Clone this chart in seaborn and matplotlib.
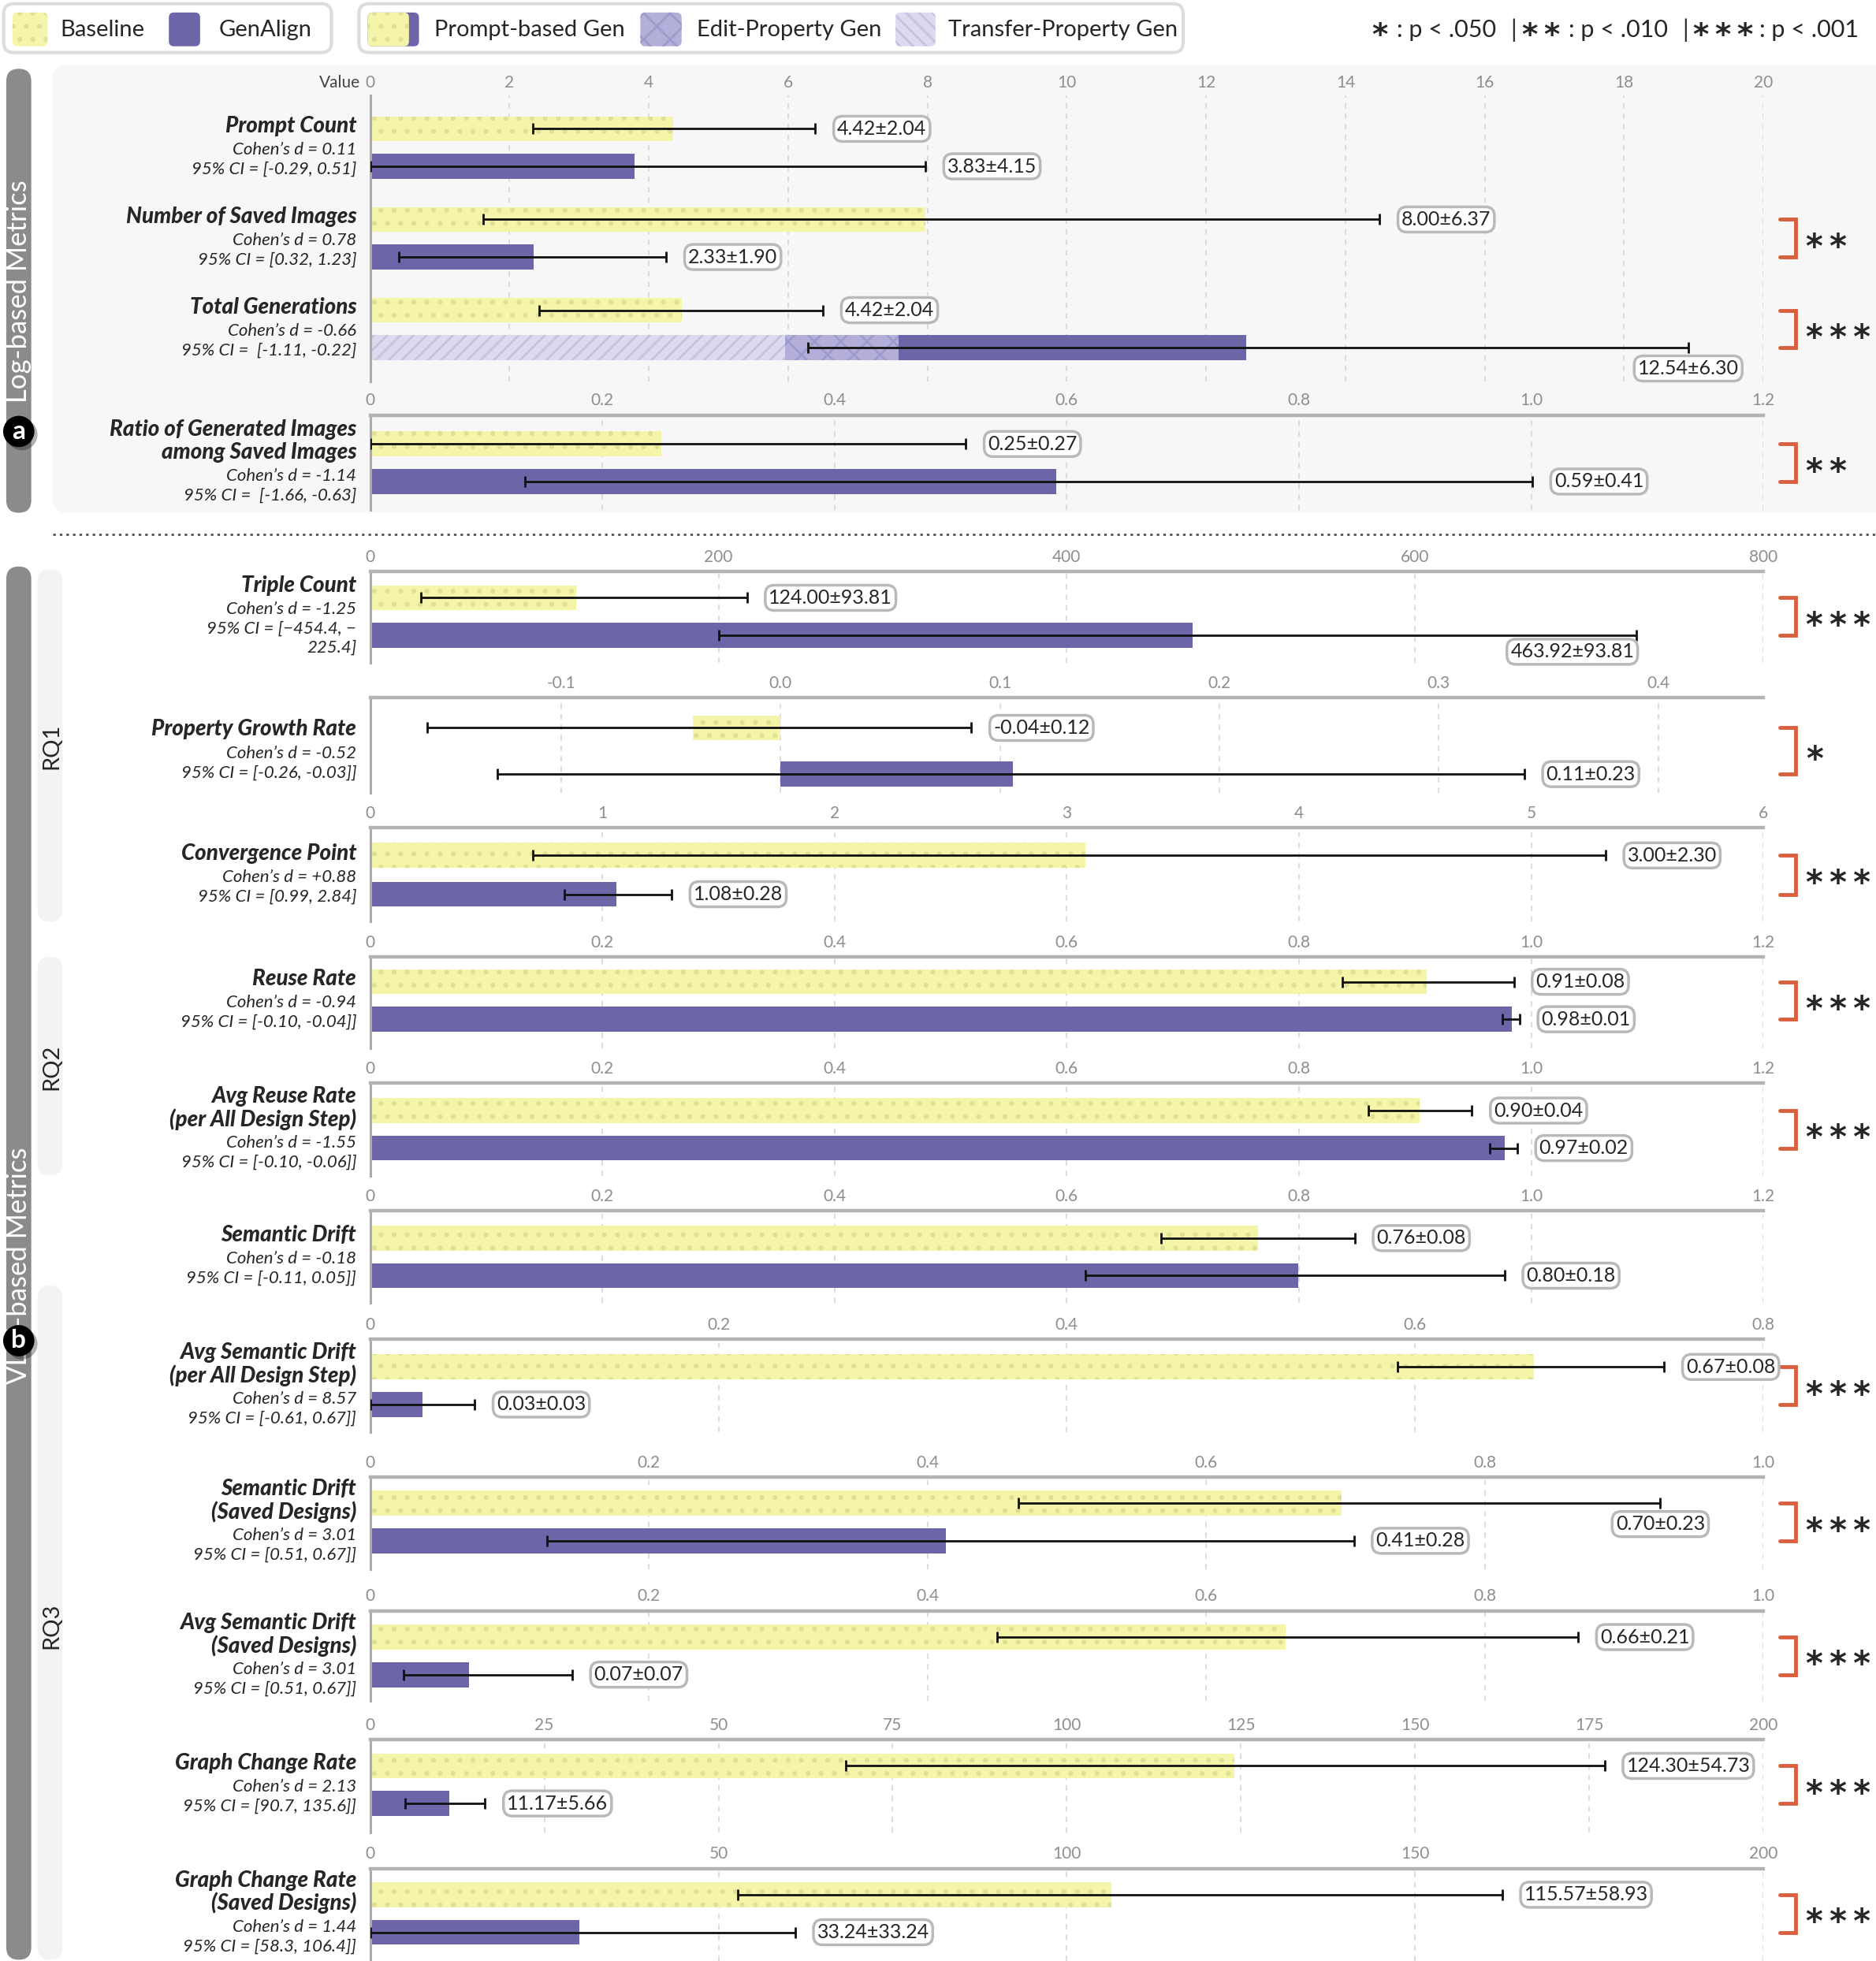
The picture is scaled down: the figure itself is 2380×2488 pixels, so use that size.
import numpy as np
import pandas as pd
import matplotlib.pyplot as plt
import seaborn as sns
import matplotlib.transforms as mtransforms
from matplotlib.colors import to_rgb
from matplotlib.patches import FancyBboxPatch, Circle

# ---- values ----
metrics = ['Prompt Count', 'Number of Saved Images', 'Total Generations',
           'Ratio of Generated Images\namong Saved Images', 'Triple Count',
           'Property Growth Rate', 'Convergence Point', 'Reuse Rate',
           'Avg Reuse Rate\n(per All Design Step)', 'Semantic Drift',
           'Avg Semantic Drift\n(per All Design Step)', 'Semantic Drift\n(Saved Designs)',
           'Avg Semantic Drift\n(Saved Designs)', 'Graph Change Rate',
           'Graph Change Rate\n(Saved Designs)']
cohens_d = ['0.11', '0.78', '-0.66', '-1.14', '-1.25', '-0.52', '+0.88', '-0.94',
            '-1.55', '-0.18', '8.57', '3.01', '3.01', '2.13', '1.44']
ci_text = ['[-0.29, 0.51]', '[0.32, 1.23]', ' [-1.11, -0.22]', ' [-1.66, -0.63]',
           '[\u2212454.4, \u2212\n225.4]', '[-0.26, -0.03]]', '[0.99, 2.84]',
           '[-0.10, -0.04]]', '[-0.10, -0.06]]', '[-0.11, 0.05]]', '[-0.61, 0.67]]',
           '[0.51, 0.67]]', '[0.51, 0.67]]', '[90.7, 135.6]]', '[58.3, 106.4]]']

base_mean = [4.35, 7.97, 4.47, 0.251, 118.3, -0.04, 3.08, 0.910, 0.904, 0.765,
             0.668, 0.697, 0.657, 124.1, 106.4]
base_lo = [2.33, 1.62, 2.42, 0.0, 29.3, -0.161, 0.70, 0.837, 0.860, 0.681,
           0.590, 0.465, 0.450, 68.3, 52.8]
base_hi = [6.39, 14.49, 6.50, 0.513, 216.3, 0.087, 5.32, 0.985, 0.949, 0.848,
           0.743, 0.926, 0.867, 177.2, 162.5]
gen_mean = [3.79, 2.35, 12.58, 0.591, 472.0, 0.106, 1.061, 0.983, 0.977, 0.799,
            0.030, 0.413, 0.071, 11.3, 30.0]
gen_lo = [0.0, 0.41, 6.28, 0.133, 200.0, -0.129, 0.835, 0.975, 0.964, 0.616,
          0.0, 0.127, 0.024, 5.0, 0.0]
gen_hi = [7.97, 4.25, 18.92, 1.001, 727.0, 0.339, 1.298, 0.990, 0.988, 0.977,
          0.060, 0.706, 0.145, 16.5, 61.0]
base_label = ['4.42±2.04', '8.00±6.37', '4.42±2.04', '0.25±0.27', '124.00±93.81',
              '-0.04±0.12', '3.00±2.30', '0.91±0.08', '0.90±0.04', '0.76±0.08',
              '0.67±0.08', '0.70±0.23', '0.66±0.21', '124.30±54.73', '115.57±58.93']
gen_label = ['3.83±4.15', '2.33±1.90', '12.54±6.30', '0.59±0.41', '463.92±93.81',
             '0.11±0.23', '1.08±0.28', '0.98±0.01', '0.97±0.02', '0.80±0.18',
             '0.03±0.03', '0.41±0.28', '0.07±0.07', '11.17±5.66', '33.24±33.24']
significance = ['', '**', '***', '**', '***', '*', '***', '***', '***', '',
                '***', '***', '***', '***', '***']

# GenAlign "Total Generations" split: transfer-property, edit-property, prompt-based
total_gen_split = [5.96, 1.63, 4.99]

# panels: which metrics, x range, ticks
panel_rows = [[0, 1, 2], [3], [4], [5], [6], [7], [8], [9], [10], [11], [12], [13], [14]]
panel_xlim = [(0, 20), (0, 1.2), (0, 800), (-0.187, 0.448), (0, 6), (0, 1.2), (0, 1.2),
              (0, 1.2), (0, 0.8), (0, 1.0), (0, 1.0), (0, 200), (0, 200)]
ticks_12 = ([0, 0.2, 0.4, 0.6, 0.8, 1.0, 1.2], ['0', '0.2', '0.4', '0.6', '0.8', '1.0', '1.2'])
ticks_10 = ([0, 0.2, 0.4, 0.6, 0.8, 1.0], ['0', '0.2', '0.4', '0.6', '0.8', '1.0'])
panel_ticks = [
    ([0, 2, 4, 6, 8, 10, 12, 14, 16, 18, 20],
     ['0', '2', '4', '6', '8', '10', '12', '14', '16', '18', '20']),
    ticks_12,
    ([0, 200, 400, 600, 800], ['0', '200', '400', '600', '800']),
    ([-0.1, 0.0, 0.1, 0.2, 0.3, 0.4], ['-0.1', '0.0', '0.1', '0.2', '0.3', '0.4']),
    ([0, 1, 2, 3, 4, 5, 6], ['0', '1', '2', '3', '4', '5', '6']),
    ticks_12, ticks_12, ticks_12,
    ([0, 0.2, 0.4, 0.6, 0.8], ['0', '0.2', '0.4', '0.6', '0.8']),
    ticks_10, ticks_10,
    ([0, 25, 50, 75, 100, 125, 150, 175, 200],
     ['0', '25', '50', '75', '100', '125', '150', '175', '200']),
    ([0, 50, 100, 150, 200], ['0', '50', '100', '150', '200']),
]

# ---- layout (pixels of a 1500 x 1568 frame) ----
W, H = 1500, 1568
S = 72.5                      # px between metric groups
X0, X1 = 296, 1410
panel_top = [76, 332, 457, 558, 662, 765, 866, 968, 1071, 1181, 1288, 1391, 1494]
panel_bottom = [305, 408, 530, 634, 737, 838, 940, 1042, 1145, 1255, 1360, 1465, 1568]
panel_center = [118, 370, 493, 600.5, 699.5, 800, 903, 1005, 1108, 1217, 1324, 1427, 1530]
pair_gap = [30, 30, 30, 37, 31, 30, 30, 30, 30, 30, 30, 30, 30]
base_label_pos = ['r'] * 11 + ['b'] + ['r'] * 3
gen_label_pos = ['r', 'r', 'b', 'r', 'bl'] + ['r'] * 10

YELLOW, DOT, PURPLE = '#f5f5a9', '#dfdf96', '#6c66a8'
EDIT, EDIT_H = '#b3afd9', '#9f9acd'
TRANSFER, TRANSFER_H = '#dcdaee', '#c6c3e2'
BRACKET = '#d9603f'

sns.set_style('white')
plt.rcParams['font.family'] = ['Lato', 'DejaVu Sans']
plt.rcParams['hatch.linewidth'] = 2.0

fig = plt.figure(figsize=(23.8, 24.88), dpi=100)
deco = fig.add_axes([0, 0, 1, 1], zorder=-1)
deco.set_xlim(0, W)
deco.set_ylim(H, 0)
deco.axis('off')


def rbox(x, y, w, h, r, **kw):
    deco.add_patch(FancyBboxPatch((x + r, y + r), w - 2 * r, h - 2 * r,
                                  boxstyle=f'round,pad={r}', **kw))


# backgrounds, side pills, badges
rbox(42, 52, 1480, 358, 12, fc='#f7f7f7', lw=0)
rbox(5, 55, 20, 355, 10, fc='#8b8b8b', lw=0)
rbox(5, 453, 20, 1114, 10, fc='#8b8b8b', lw=0)
for y0, y1 in [(455, 737), (765, 940), (1028, 1567)]:
    rbox(30, y0, 20, y1 - y0, 10, fc='#f3f3f3', lw=0)
deco.text(15, 233, 'Log-based Metrics', rotation=90, color='white', fontsize=25,
          ha='center', va='center')
deco.text(15, 1012, 'VLM-based Metrics', rotation=90, color='white', fontsize=25,
          ha='center', va='center')
for txt, yy in [('RQ1', 597), ('RQ2', 853), ('RQ3', 1300)]:
    deco.text(41, yy, txt, rotation=90, fontsize=21, ha='center', va='center')
for txt, yy in [('a', 345), ('b', 1072)]:
    deco.add_patch(Circle((17.5, yy + 2.5), 12.5, fc='black', alpha=0.3, lw=0, zorder=5))
    deco.add_patch(Circle((15, yy), 12.5, fc='black', lw=0, zorder=5))
    deco.text(15, yy, txt, color='white', fontsize=24, fontweight='bold',
              ha='center', va='center', zorder=6)
deco.plot([42, 1500], [427, 427], color='#555555', lw=2, ls=(0, (1.2, 1.8)))
deco.text(288, 66, 'Value', ha='right', va='center', fontsize=15, color='#444444')

# legend boxes
rbox(3, 3, 262, 39, 8, fc='white', ec='#dddddd', lw=3)
rbox(10, 10, 28, 27, 4, fc=YELLOW, ec=DOT, hatch='.', lw=0)
deco.text(48, 24, 'Baseline', va='center', fontsize=21)
rbox(135, 10, 25, 27, 4, fc=PURPLE, lw=0)
deco.text(175, 24, 'GenAlign', va='center', fontsize=21)
rbox(287, 3, 659, 39, 8, fc='white', ec='#dddddd', lw=3)
rbox(294, 10, 41, 27, 4, fc=PURPLE, lw=0)
rbox(294, 10, 33, 27, 4, fc=YELLOW, ec=DOT, hatch='.', lw=0)
deco.text(347, 24, 'Prompt-based Gen', va='center', fontsize=21)
rbox(512, 10, 33, 27, 4, fc=EDIT, ec=EDIT_H, hatch='x', lw=0)
deco.text(557, 24, 'Edit-Property Gen', va='center', fontsize=21)
rbox(716, 10, 32, 27, 4, fc=TRANSFER, ec=TRANSFER_H, hatch='\\\\', lw=0)
deco.text(758, 24, 'Transfer-Property Gen', va='center', fontsize=21)
p_legend = [('*', 1097), (': p < .050', 1117), ('|', 1208), ('**', 1217),
            (': p < .010', 1254), ('|', 1345), ('***', 1354), (': p < .001', 1407)]
for txt, xx in p_legend:
    if txt.startswith('*'):
        deco.text(xx, 29, '\u2009'.join(txt), va='center', fontsize=28,
                  fontweight='bold', family='DejaVu Sans')
    else:
        deco.text(xx, 24, txt, va='center', fontsize=22)


def value_label(ax, x, y, text, where):
    if where == 'r':
        off, ha = (20, 0), 'left'
    elif where == 'b':
        off, ha = (0, -19), 'center'
    else:
        off, ha = (-2, -15), 'right'
    ax.annotate(text, (x, y), xytext=off, textcoords='offset points', ha=ha, va='center',
                fontsize=18, zorder=6, annotation_clip=False,
                bbox=dict(boxstyle='round,pad=0.18,rounding_size=0.45', fc='white',
                          ec='#b9b9b9', lw=2.5))


for k, rows in enumerate(panel_rows):
    top, bot, cen, d = panel_top[k], panel_bottom[k], panel_center[k], pair_gap[k]
    ax = fig.add_axes([X0 / W, 1 - bot / H, (X1 - X0) / W, (bot - top) / H])
    ax.patch.set_alpha(0)
    names = [metrics[i] for i in rows]
    df = pd.DataFrame({'metric': names * 2,
                       'group': ['Baseline'] * len(rows) + ['GenAlign'] * len(rows),
                       'value': [base_mean[i] for i in rows] + [gen_mean[i] for i in rows]})
    w = 2 * d / S
    sns.barplot(data=df, x='value', y='metric', hue='group', order=names,
                hue_order=['Baseline', 'GenAlign'], palette=[YELLOW, PURPLE],
                saturation=1, width=w, gap=1 - 20 / d, errorbar=None,
                legend=False, orient='h', ax=ax)
    for p in ax.patches:
        if np.allclose(p.get_facecolor()[:3], to_rgb(YELLOW), atol=0.01):
            p.set_hatch('.')
            p.set_edgecolor(DOT)
        p.set_linewidth(0)

    ax.set_xlim(*panel_xlim[k])
    ax.set_ylim((bot - cen) / S, -(cen - top) / S)
    ax.set_xticks(panel_ticks[k][0])
    ax.set_xticklabels(panel_ticks[k][1])
    ax.set_yticks([])
    ax.set_xlabel('')
    ax.set_ylabel('')
    ax.tick_params(axis='x', length=0, pad=4 if k == 0 else 6, labelsize=15,
                   labelcolor='#8e8e8e', top=True, bottom=False,
                   labeltop=True, labelbottom=False)
    ax.grid(True, axis='x', color='#d7d7d7', ls=(0, (4, 4)), lw=1.2)
    ax.set_axisbelow(True)
    for s in ['right', 'bottom']:
        ax.spines[s].set_visible(False)
    ax.spines['left'].set(color='#ababab', lw=2.2)
    ax.spines['top'].set(color='#b3b3b3', lw=3.2, visible=(k != 0))

    trans = mtransforms.blended_transform_factory(ax.transAxes, ax.transData)
    bar_h = w / 2 * 20 / d
    for j, i in enumerate(rows):
        yb, yg = j - w / 4, j + w / 4
        if metrics[i] == 'Total Generations':
            ax.barh(yg, total_gen_split[0] + total_gen_split[1], height=bar_h,
                    color=EDIT, edgecolor=EDIT_H, hatch='x', lw=0, zorder=2)
            ax.barh(yg, total_gen_split[0], height=bar_h, color=TRANSFER,
                    edgecolor=TRANSFER_H, hatch='//', lw=0, zorder=2)
        for m, lo, hi, yy in [(base_mean[i], base_lo[i], base_hi[i], yb),
                              (gen_mean[i], gen_lo[i], gen_hi[i], yg)]:
            ax.errorbar(m, yy, xerr=[[m - lo], [hi - m]], fmt='none', ecolor='#111111',
                        elinewidth=2, capsize=5, capthick=2, zorder=4)
        value_label(ax, base_hi[i], yb, base_label[i], base_label_pos[i])
        value_label(ax, gen_hi[i], yg, gen_label[i], gen_label_pos[i])
        if significance[i]:
            xa, xb = (1423 - X0) / (X1 - X0), (1436 - X0) / (X1 - X0)
            ax.plot([xa, xb, xb, xa], [yb, yb, yg, yg], color=BRACKET, lw=3.5,
                    transform=trans, clip_on=False, zorder=3, solid_joinstyle='miter')
            ax.annotate('\u2009'.join(significance[i]), ((1444 - X0) / (X1 - X0), j),
                        xycoords=trans, xytext=(0, -9), textcoords='offset points',
                        fontsize=30, fontweight='bold', family='DejaVu Sans',
                        ha='left', va='center', annotation_clip=False)

        # metric name and statistics to the left of the panel
        yc = cen + j * S
        title_lines = metrics[i].split('\n')
        stat_lines = [f'Cohen\u2019s d = {cohens_d[i]}'] + f'95% CI = {ci_text[i]}'.split('\n')
        y = yc - ((len(title_lines) - 1) * 18 + 19 + (len(stat_lines) - 1) * 15.5) / 2
        for t in title_lines:
            deco.text(285, y, t, ha='right', va='center', fontsize=20,
                      fontweight='black', fontstyle='italic')
            y += 18
        y += 1
        for t in stat_lines:
            deco.text(285, y, t, ha='right', va='center', fontsize=16, fontstyle='italic')
            y += 15.5

fig.savefig('out.png', dpi=100)
